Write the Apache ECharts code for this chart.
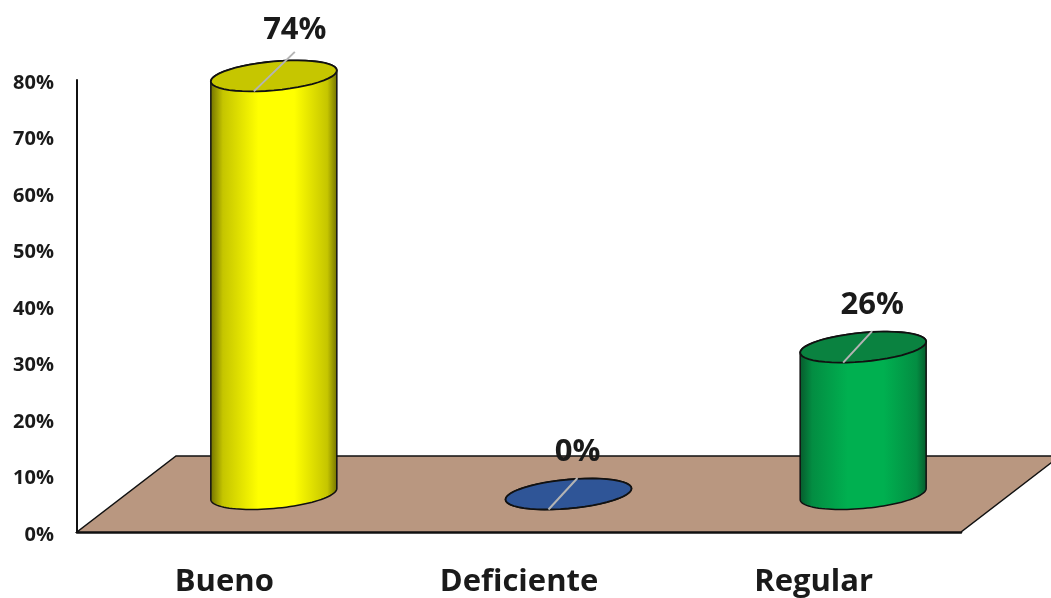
<!DOCTYPE html>
<html>
<head>
<meta charset="utf-8">
<style>html,body{margin:0;padding:0;background:#fff}#chart{width:1051px;height:598px}</style>
<script src="https://cdn.jsdelivr.net/npm/echarts@6/dist/echarts.min.js"></script>
</head>
<body>
<div id="chart"></div>
<script>
// Survey result by rating, in percent
const categories = ['Bueno', 'Deficiente', 'Regular'];
const percentages = [74, 0, 26];
const yTicksMax = 80;
const yTickStep = 10;

// Cylinder colours per rating: side edge, side centre, cap
const sideEdge = ['#6f6f00', '#1f3f78', '#07592c'];
const sideMid = ['#ffff00', '#2f5597', '#00b050'];
const capFill = ['#c6c600', '#2f5597', '#0a8240'];

// Pseudo-3D projection of the chart floor
const depthX = 99, depthY = 76;
const radiusX = 63, radiusY = 14.5, tilt = 5.5;

function arc(cx, cy, from, to) {
  const pts = [];
  const n = 48;
  for (let i = 0; i <= n; i++) {
    const t = from + (to - from) * i / n;
    pts.push([cx + radiusX * Math.cos(t), cy + radiusY * Math.sin(t) - tilt * Math.cos(t)]);
  }
  return pts;
}

function toPath(pts, close) {
  return pts.map((p, i) => (i ? 'L' : 'M') + p[0].toFixed(2) + ' ' + p[1].toFixed(2)).join(' ') + (close ? ' Z' : '');
}

function renderFloor(params) {
  const c = params.coordSys;
  const x0 = c.x, x1 = c.x + c.width, y0 = c.y + c.height;
  return {
    type: 'polygon',
    shape: { points: [[x0, y0], [x1, y0], [x1 + depthX, y0 - depthY], [x0 + depthX, y0 - depthY]] },
    style: { fill: '#b99780', stroke: '#111', lineWidth: 1.5 }
  };
}

function renderCylinder(params, api) {
  const i = api.value(0);
  const value = api.value(1);
  const top = api.coord([i, value]);
  const base = api.coord([i, 0]);
  const cx = top[0] + depthX / 2;
  const capY = top[1] - depthY / 2;
  const baseY = base[1] - depthY / 2;

  const body = arc(cx, baseY, 0, Math.PI).concat(arc(cx, capY, Math.PI, 2 * Math.PI));
  // The tallest cylinder carries a longer leader line up to its label
  const reachX = i === 0 ? 21 : 9;
  const reachY = i === 0 ? 24 : 16;
  const shade = echarts.color.lerp(0.6, [sideEdge[i], sideMid[i]]);

  return {
    type: 'group',
    children: [
      {
        type: 'path',
        shape: { pathData: toPath(body, true) },
        style: {
          fill: new echarts.graphic.LinearGradient(0, 0, 1, 0, [
            { offset: 0, color: sideEdge[i] },
            { offset: 0.1, color: shade },
            { offset: 0.38, color: sideMid[i] },
            { offset: 0.66, color: sideMid[i] },
            { offset: 0.92, color: shade },
            { offset: 1, color: sideEdge[i] }
          ]),
          stroke: '#111', lineWidth: 1.5
        }
      },
      {
        type: 'path',
        shape: { pathData: toPath(arc(cx, capY, 0, 2 * Math.PI), true) },
        style: { fill: capFill[i], stroke: '#111', lineWidth: 1.8 }
      },
      {
        type: 'line',
        shape: { x1: cx - 20, y1: capY + 15.5, x2: cx + reachX, y2: capY - reachY },
        style: { stroke: '#b4b4b4', lineWidth: 2 }
      },
      {
        type: 'text',
        style: {
          x: cx + reachX,
          y: capY - reachY - (i === 0 ? 22 : 26),
          text: value + '%',
          align: 'center',
          verticalAlign: 'middle',
          font: 'bold 31px "Open Sans"',
          fill: '#1a1a1a'
        }
      }
    ]
  };
}

const chart = echarts.init(document.getElementById('chart'), null, { renderer: 'canvas' });
chart.setOption({
  animation: false,
  backgroundColor: '#fff',
  grid: { left: 77, right: 90, top: 80, bottom: 66, outerBoundsMode: 'none' },
  xAxis: {
    type: 'category',
    data: categories,
    axisLine: { lineStyle: { color: '#111', width: 2.5 } },
    axisTick: { show: false },
    axisLabel: { color: '#1a1a1a', fontFamily: 'Open Sans', fontWeight: 'bold', fontSize: 31, margin: 35 }
  },
  yAxis: {
    type: 'value',
    min: 0,
    max: yTicksMax,
    interval: yTickStep,
    splitLine: { show: false },
    axisLine: { show: true, lineStyle: { color: '#111', width: 2 } },
    axisTick: { show: false },
    axisLabel: { formatter: '{value}%', color: '#1a1a1a', fontFamily: 'Open Sans', fontWeight: 'bold', fontSize: 20, margin: 23, verticalAlign: 'top', lineHeight: 6 }
  },
  series: [
    { type: 'custom', data: [0], clip: false, z: 1, silent: true, renderItem: renderFloor },
    {
      type: 'custom',
      clip: false,
      z: 2,
      encode: { x: 0, y: 1 },
      data: categories.map((_, i) => [i, percentages[i]]),
      renderItem: renderCylinder
    }
  ]
});
</script>
</body>
</html>
